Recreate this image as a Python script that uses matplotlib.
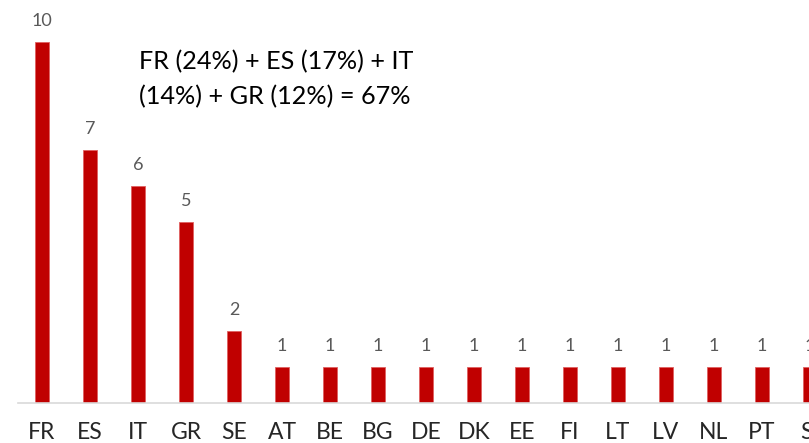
import matplotlib
matplotlib.use("Agg")
import matplotlib.pyplot as plt

countries = ["FR", "ES", "IT", "GR", "SE", "AT", "BE", "BG", "DE", "DK",
             "EE", "FI", "LT", "LV", "NL", "PT", "SI"]
counts = [10, 7, 6, 5, 2, 1, 1, 1, 1, 1, 1, 1, 1, 1, 1, 1, 1]
note = "FR (24%) + ES (17%) + IT\n(14%) + GR (12%) = 67%"

plt.rcParams['font.family'] = ['Lato', 'DejaVu Sans']

W, H = 809, 443
fig = plt.figure(figsize=(W / 100, H / 100), dpi=100)
n = len(countries)
band = 48
ax = fig.add_axes([18 / W, 40.3 / H, n * band / W, 11 * 36.1 / H])

x = list(range(n))
bars = ax.bar(x, counts, width=0.31, color="#c00000", edgecolor="#e06060", linewidth=0.6)
for xi, v in zip(x, counts):
    ax.text(xi, v + 0.36, str(v), ha="center", va="bottom", fontsize=13, color="#595959")

ax.set_xlim(-0.5, n - 0.5)
ax.set_ylim(0, 11)
ax.set_xticks(x)
ax.set_xticklabels(countries, fontsize=16.5, color="#262626")
ax.tick_params(axis="x", length=0, pad=14)
ax.set_yticks([])
for s in ["top", "right", "left"]:
    ax.spines[s].set_visible(False)
ax.spines["bottom"].set_color("#d9d9d9")
ax.spines["bottom"].set_linewidth(1.2)
ax.patch.set_alpha(0)

fig.text(139 / W, 1 - 50 / H, note, ha="left", va="top", fontsize=18.2,
         color="black", linespacing=1.62)

fig.savefig("out.png", dpi=100)
